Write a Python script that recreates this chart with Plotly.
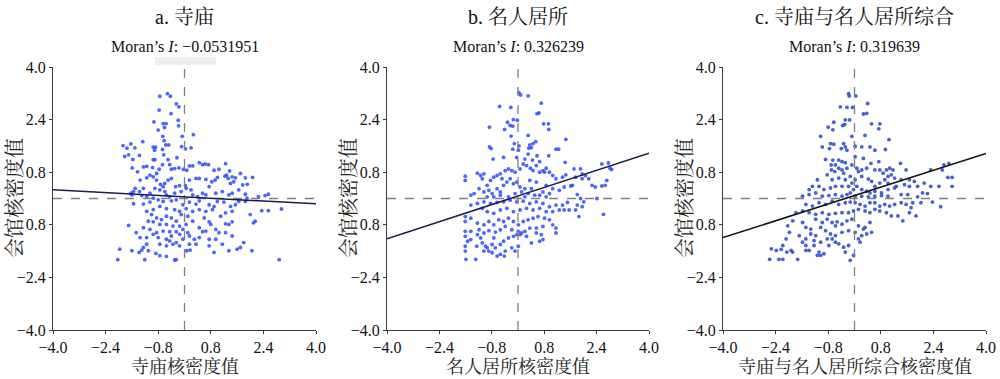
import plotly.graph_objects as go

# ---------------- data ----------------
panel_titles = ["a. 寺庙", "b. 名人居所", "c. 寺庙与名人居所综合"]
moran_values = ["−0.0531951", "0.326239", "0.319639"]
x_titles = ["寺庙核密度值", "名人居所核密度值", "寺庙与名人居所综合核密度值"]
y_title = "会馆核密度值"

tick_vals = [-4.0, -2.4, -0.8, 0.8, 2.4, 4.0]
x_tick_text = ["−4.0", "−2.4", "−0.8", "0.8", "2.4", "4.0"]
y_tick_text = ["−4.0", "−2.4", "0.8", "0.8", "2.4", "4.0"]

# regression lines: slope, intercept
fit_slopes = [-0.0532, 0.326, 0.320]
fit_intercepts = [0.05, 0.075, 0.09]

pts_a = [
    (-0.75, 3.11), (-0.52, 3.19), (-0.43, 3.11), (-0.25, 2.88), (-0.77, 2.69), (-0.41, 2.58), (-0.17, 2.79),
    (-0.19, 2.38), (-0.93, 2.33), (-0.65, 2.28), (-0.56, 2.28), (-0.61, 2.16), (-0.80, 2.08), (-0.18, 2.21),
    (-0.66, 1.89), (-0.62, 1.76), (-0.07, 1.89), (0.27, 1.94), (-1.27, 1.73), (-1.87, 1.61), (-1.75, 1.53),
    (-1.63, 1.66), (-1.51, 1.54), (-0.95, 1.56), (-0.88, 1.56), (-0.91, 1.47), (-0.57, 1.63), (-0.48, 1.63),
    (-0.67, 1.49), (-0.09, 1.58), (0.03, 1.51), (0.20, 1.54), (-1.82, 1.28), (-1.70, 1.33), (-1.57, 1.19),
    (-0.23, 1.24), (-0.95, 1.18), (-0.90, 1.18), (-0.63, 1.33), (-0.50, 1.18), (-1.37, 1.31),
    (-1.59, 0.93), (-1.43, 0.81), (-1.25, 0.96), (-1.15, 0.98), (-0.97, 0.94), (-0.85, 0.76), (-0.77, 0.89),
    (-0.67, 1.03), (-0.45, 1.03), (-0.40, 0.89), (-0.30, 0.91), (-0.17, 0.93), (-0.03, 0.89), (0.07, 0.86),
    (0.15, 0.99), (0.25, 0.99), (0.45, 1.09), (0.55, 1.03), (0.63, 1.05), (0.73, 1.03), (0.90, 0.86),
    (1.05, 0.89), (1.25, 1.06), (1.37, 0.84), (1.28, 0.71), (1.23, 0.68), (1.33, 0.61), (1.45, 0.66),
    (1.55, 0.63), (1.50, 0.51), (1.40, 0.46), (1.70, 0.76), (1.85, 0.63), (2.07, 0.64), (1.91, 0.43),
    (1.77, 0.41), (1.00, 0.64), (0.93, 0.56), (0.83, 0.51), (0.75, 0.36), (0.65, 0.58), (0.45, 0.61),
    (0.35, 0.61), (0.15, 0.56), (0.03, 0.39), (-0.15, 0.39), (-0.27, 0.36), (-0.40, 0.61), (-0.50, 0.56),
    (-0.60, 0.46), (-0.73, 0.43), (-0.85, 0.56), (-0.95, 0.66), (-1.05, 0.71), (-1.15, 0.63), (-1.35, 0.56),
    (-1.50, 0.31), (-1.55, 0.21), (-1.37, 0.21), (-1.25, 0.31), (-1.05, 0.16), (-0.90, 0.31), (-0.75, 0.26),
    (-0.65, 0.36), (-0.60, 0.21), (-0.55, 0.11), (-0.45, 0.06), (-0.30, 0.16), (-0.10, 0.21), (0.05, 0.31),
    (0.20, 0.26), (0.25, 0.11), (0.40, 0.06), (0.55, 0.16), (0.65, 0.11), (0.95, 0.16), (1.15, 0.21),
    (1.35, 0.11), (1.45, 0.16), (1.65, 0.26), (1.85, 0.13), (1.90, 0.01), (2.25, 0.06), (2.45, 0.09),
    (2.55, 0.13), (-1.60, 0.11), (-1.63, 0.16), (-1.30, 0.09), (-1.15, 0.06), (-0.95, 0.01),
    (-1.55, -0.16), (-1.25, -0.17), (-1.05, -0.11), (-0.80, -0.04), (-0.65, -0.09), (-0.40, -0.07),
    (-0.25, -0.04), (-0.05, -0.19), (0.15, -0.11), (0.35, -0.17), (0.45, -0.07), (0.75, -0.19), (0.90, -0.24),
    (1.00, -0.09), (1.20, -0.11), (1.40, -0.24), (1.55, -0.19), (1.65, -0.09), (1.85, -0.09), (2.35, -0.37),
    (2.55, -0.37), (2.95, -0.32), (2.00, -0.49), (2.15, -0.69), (2.10, -0.74), (1.45, -0.71), (1.35, -0.79),
    (1.25, -0.77), (0.85, -0.34), (0.65, -0.39), (0.45, -0.34), (0.25, -0.39), (0.05, -0.31), (-0.15, -0.39),
    (-0.30, -0.34), (-0.55, -0.31), (-0.75, -0.24), (-0.95, -0.34), (-1.15, -0.39), (-1.00, -0.49),
    (-0.85, -0.59), (-0.70, -0.64), (-0.55, -0.54), (-0.40, -0.59), (-0.25, -0.69), (-0.10, -0.49),
    (0.10, -0.54), (0.25, -0.69), (0.05, -0.79), (-0.15, -0.84), (-0.35, -0.84), (-0.55, -0.79),
    (-0.75, -0.79), (-0.95, -0.71), (-1.10, -0.69), (-1.25, -0.89), (-1.05, -0.94), (-0.85, -1.04),
    (-0.65, -0.99), (-0.45, -1.01), (-0.25, -1.01), (-0.05, -0.94), (0.10, -1.04), (-0.15, -1.09),
    (-0.40, -1.14), (-0.55, -1.24), (-0.45, -1.29), (-0.25, -1.34), (-0.05, -1.24), (0.15, -1.14),
    (0.65, -0.99), (0.80, -0.79), (0.95, -0.94), (1.05, -1.04), (1.25, -1.04), (0.95, -1.24), (0.75, -1.24),
    (0.45, -1.19), (0.30, -1.24), (0.15, -1.39), (-0.15, -1.44), (-0.35, -1.39), (-0.55, -1.44),
    (-0.75, -1.39), (-0.80, -1.19), (-0.95, -1.09), (-1.15, -1.19), (-1.35, -1.19), (-1.47, -1.04),
    (-1.70, -0.82), (-1.25, -1.49), (-1.15, -1.39), (-1.10, -1.59), (-1.30, -1.57), (-1.38, -1.64),
    (-1.60, -1.59), (-1.97, -1.54), (-2.03, -1.86), (-1.21, -1.86), (-0.87, -1.67), (-0.75, -1.74),
    (-0.55, -1.76), (-0.30, -1.87), (-0.25, -1.86), (0.07, -1.59), (0.17, -1.57), (0.35, -1.39),
    (0.75, -1.44), (0.90, -1.64), (1.15, -1.39), (1.35, -1.59), (1.45, -1.14), (1.60, -1.54), (1.70, -1.49),
    (1.80, -1.34), (2.05, -1.59), (2.88, -1.86), (0.55, -1.01), (0.45, -0.89), (0.60, -0.59), (0.75, -0.71),
    (1.10, -0.54), (1.25, -0.44), (1.45, -0.39),
]

pts_b = [
    (0.03, 3.22), (0.08, 3.15), (0.31, 3.12), (-0.56, 2.80), (-0.22, 2.77), (0.71, 2.90), (0.64, 2.60),
    (0.58, 2.58), (-0.14, 2.40), (-0.02, 2.38), (-0.32, 2.32), (-0.24, 2.22), (-0.16, 2.20), (-0.41, 2.10),
    (-0.87, 2.17), (0.78, 2.27), (0.93, 2.27), (0.94, 2.10), (0.31, 1.92), (-0.21, 1.90), (1.46, 1.80),
    (0.54, 1.73), (0.46, 1.67), (0.36, 1.63), (0.41, 1.55), (0.33, 1.53), (-0.11, 1.67), (0.03, 1.60),
    (0.01, 1.47), (-0.16, 1.50), (-0.87, 1.57), (-0.82, 1.52), (1.16, 1.50), (1.24, 1.50), (0.94, 1.30),
    (-0.76, 1.20), (-0.44, 1.25), (-0.04, 1.25), (0.21, 1.20), (0.31, 1.35), (0.44, 1.17), (0.58, 1.30),
    (0.66, 1.12), (0.86, 0.92), (0.81, 0.80), (1.44, 1.10), (1.71, 0.90), (1.91, 0.90), (2.56, 1.05),
    (2.76, 1.08), (2.81, 0.92), (2.86, 0.88),
    (-1.61, 0.68), (-1.61, 0.55), (-1.24, 0.77), (-1.14, 0.70), (-1.04, 0.75), (-1.09, 0.60), (-0.94, 0.40),
    (-0.84, 0.55), (-0.74, 0.65), (-0.64, 0.70), (-0.54, 0.75), (-0.49, 0.60), (-0.39, 0.85), (-0.29, 0.90),
    (-0.19, 0.85), (-0.09, 0.80), (0.06, 0.90), (0.16, 1.05), (0.26, 1.00), (0.38, 0.92), (0.46, 0.85),
    (0.56, 1.00), (0.66, 0.80), (0.76, 0.85), (0.96, 0.80), (1.06, 0.70), (1.16, 0.60), (1.36, 0.65),
    (1.46, 0.72), (1.61, 0.38), (1.66, 0.40), (1.76, 0.65), (1.96, 0.75), (2.16, 0.60), (2.26, 0.40),
    (2.36, 0.35), (2.56, 0.38), (2.66, 0.40), (2.71, 0.55), (2.06, 0.70), (1.96, 0.60), (-1.19, 0.30),
    (-1.04, 0.20), (-0.89, 0.25), (-0.79, 0.15), (-0.64, 0.30), (-0.54, 0.20), (-0.44, 0.40), (-0.34, 0.50),
    (-0.24, 0.60), (-0.14, 0.45), (-0.04, 0.50), (0.06, 0.35), (0.11, 0.20), (0.21, 0.30), (0.31, 0.15),
    (0.41, 0.30), (0.51, 0.10), (0.66, 0.10), (0.76, 0.20), (0.86, 0.05), (0.96, 0.15), (1.06, 0.30),
    (1.26, 0.25), (1.41, 0.35), (0.86, 0.40), (0.56, 0.50), (0.36, 0.55), (-1.34, 0.15), (-1.44, 0.10),
    (-0.94, 0.05), (-0.74, 0.05), (-0.54, 0.10), (-0.29, 0.05), (-0.09, 0.15), (0.21, 0.05),
    (1.81, 0.12), (1.91, 0.00), (2.01, -0.10), (1.81, -0.20), (1.96, -0.25), (1.51, -0.12), (1.36, -0.20),
    (1.16, -0.20), (0.96, -0.25), (0.76, -0.15), (0.56, -0.10), (0.36, -0.15), (0.16, -0.08), (-0.04, -0.10),
    (-0.24, -0.05), (-0.44, -0.10), (-0.64, -0.12), (-0.84, -0.15), (-1.04, -0.10), (-1.24, -0.15),
    (-1.44, -0.20), (-1.09, -0.30), (-0.94, -0.40), (-0.74, -0.45), (-0.54, -0.35), (-0.34, -0.30),
    (-0.14, -0.40), (0.06, -0.35), (0.26, -0.30), (0.46, -0.35), (0.66, -0.30), (0.86, -0.40), (1.06, -0.40),
    (1.26, -0.35), (1.41, -0.35), (1.56, -0.35), (1.76, -0.35), (1.86, -0.55), (2.61, -0.48), (2.41, 0.00),
    (-1.61, -0.55), (-1.61, -0.70), (-1.44, -0.60), (-1.24, -0.75), (-1.04, -0.80), (-1.19, -0.95),
    (-0.89, -0.70), (-0.74, -0.80), (-0.59, -0.65), (-0.44, -0.70), (-0.29, -0.60), (-0.14, -0.70),
    (0.01, -0.80), (0.16, -0.70), (0.31, -0.65), (0.46, -0.60), (0.61, -0.55), (0.81, -0.60), (0.96, -0.65),
    (1.06, -0.80), (1.16, -0.90), (1.16, -1.05), (0.76, -0.85), (0.56, -0.90), (0.36, -0.90), (0.21, -1.00),
    (0.01, -1.00), (-0.19, -0.95), (-0.39, -0.85), (-0.54, -0.95), (-0.69, -1.02), (-0.89, -0.98),
    (-1.04, -1.05), (-1.24, -1.10), (-1.44, -1.00), (-1.61, -1.00), (-1.61, -1.15), (-1.54, -1.30),
    (-1.61, -1.45), (-1.61, -1.60), (-1.59, -1.85), (-1.29, -1.85), (-1.26, -1.45), (-1.09, -1.35),
    (-0.99, -1.45), (-0.89, -1.60), (-0.79, -1.65), (-0.69, -1.50), (-0.54, -1.40), (-0.44, -1.30),
    (-0.29, -1.20), (-0.14, -1.15), (-0.04, -1.10), (0.11, -1.05), (0.26, -1.15), (0.56, -1.05),
    (0.66, -1.30), (0.76, -1.25), (0.41, -1.35), (0.01, -1.45), (-0.19, -1.50), (-0.39, -1.60),
    (-0.54, -1.70), (-0.79, -1.40), (-0.74, -1.20), (-1.14, -1.20), (-1.44, -1.25), (-1.04, -1.60),
    (-0.94, -1.50), (-0.64, -1.75), (-0.42, -1.75), (0.71, -1.10), (-0.09, -1.60), (0.06, -1.10),
]

pts_c = [
    (-0.18, 3.19), (-0.16, 3.12), (0.04, 3.12), (0.40, 2.89), (-0.43, 2.79), (-0.23, 2.77), (-0.06, 2.77),
    (0.37, 2.59), (0.27, 2.57), (-0.28, 2.39), (-0.15, 2.39), (-0.80, 2.17), (-0.63, 2.32), (-0.36, 2.22),
    (-0.30, 2.25), (-0.66, 2.09), (0.52, 2.27), (0.77, 2.27), (0.74, 2.12), (-1.03, 1.89), (-0.08, 1.89),
    (0.32, 1.92), (1.05, 1.79), (-0.73, 1.67), (-0.63, 1.65), (-0.33, 1.67), (-0.28, 1.57), (-0.40, 1.52),
    (-0.23, 1.47), (-0.98, 1.57), (-0.76, 1.52), (0.47, 1.57), (0.62, 1.47), (0.94, 1.49), (0.02, 1.59),
    (0.22, 1.57), (0.02, 1.27), (0.27, 1.22), (-0.88, 1.19), (-0.66, 1.17), (-0.48, 1.17), (-0.38, 1.12),
    (-0.28, 1.09), (-0.58, 1.02), (-0.71, 1.02), (-0.70, 0.87), (-0.60, 0.82), (-0.48, 0.92), (-0.38, 0.87),
    (-0.33, 0.77), (-0.23, 0.92), (-0.08, 1.02), (0.07, 0.92), (0.12, 0.82), (0.22, 0.87), (0.37, 0.92),
    (0.50, 1.07), (0.74, 1.12), (0.62, 0.87), (0.77, 0.87), (0.87, 0.77), (0.97, 0.87), (1.07, 0.92),
    (1.17, 0.87), (1.12, 0.72), (1.02, 0.67), (1.22, 0.62), (1.40, 1.07), (1.57, 0.87), (1.42, 0.57),
    (1.67, 0.57), (1.82, 0.52), (1.92, 0.37), (2.12, 0.47), (2.32, 0.87), (2.67, 0.87), (2.87, 1.07),
    (2.72, 1.02), (2.84, 0.64), (2.97, 0.64), (2.97, 0.37), (2.57, 0.37), (2.32, 0.37), (-0.83, 0.72),
    (-0.68, 0.57), (-0.48, 0.62), (-0.28, 0.57), (-0.13, 0.67), (-0.08, 0.47), (0.02, 0.57), (0.22, 0.67),
    (0.42, 0.59), (0.52, 0.52), (0.62, 0.37), (0.77, 0.47), (0.92, 0.57), (1.02, 0.47), (1.27, 0.37),
    (1.52, 0.42), (1.67, 0.37), (-1.13, 0.57), (-1.28, 0.37), (-1.38, 0.27), (-1.08, 0.37), (-0.93, 0.27),
    (-0.73, 0.32), (-0.58, 0.37), (-0.38, 0.37), (-0.18, 0.37), (-0.03, 0.27), (0.07, 0.37), (0.22, 0.27),
    (0.37, 0.22), (0.47, 0.17), (0.62, 0.22), (0.82, 0.17), (1.02, 0.27), (1.22, 0.32), (1.42, 0.12),
    (1.62, 0.12), (1.92, 0.05), (2.07, 0.17), (2.22, 0.15), (-1.58, 0.07), (-1.38, 0.12), (-1.18, 0.17),
    (-0.98, 0.07), (-0.78, 0.09), (-0.58, 0.12), (-0.38, 0.07), (-0.23, 0.12), (-0.13, 0.17), (0.02, 0.07),
    (0.22, 0.07), (0.42, 0.05), (0.62, 0.07), (0.82, 0.09), (1.02, 0.07),
    (-1.48, -0.18), (-1.28, -0.23), (-1.08, -0.13), (-0.88, -0.18), (-0.68, -0.08), (-0.48, -0.18),
    (-0.28, -0.13), (-0.13, -0.11), (0.02, -0.13), (0.17, -0.18), (0.32, -0.23), (0.47, -0.13), (0.62, -0.13),
    (0.77, -0.23), (0.92, -0.18), (1.07, -0.23), (1.22, -0.18), (1.42, -0.13), (1.57, -0.18), (1.77, -0.13),
    (2.02, -0.13), (2.37, -0.11), (2.62, -0.25), (-1.78, -0.43), (-1.58, -0.38), (-1.38, -0.43),
    (-1.18, -0.48), (-0.98, -0.43), (-0.78, -0.48), (-0.58, -0.45), (-0.38, -0.43), (-0.18, -0.43),
    (-0.03, -0.38), (0.12, -0.33), (0.32, -0.38), (0.47, -0.43), (0.62, -0.33), (0.77, -0.38), (0.97, -0.43),
    (1.12, -0.53), (1.32, -0.53), (1.47, -0.68), (1.67, -0.43), (1.87, -0.53), (1.72, -0.28), (-2.03, -0.83),
    (-1.88, -0.68), (-1.58, -0.73), (-1.48, -0.88), (-1.33, -0.93), (-1.18, -0.63), (-0.98, -0.73),
    (-0.83, -0.63), (-0.68, -0.73), (-0.53, -0.71), (-0.38, -0.78), (-0.23, -0.68), (-0.08, -0.63),
    (0.12, -0.83), (0.32, -0.88), (0.47, -0.73), (0.52, -1.03), (0.37, -1.08), (0.12, -1.23), (0.02, -1.03),
    (-0.18, -0.98), (-0.38, -1.03), (-0.58, -1.13), (-0.73, -1.08), (-0.88, -0.98), (-1.03, -0.88),
    (-1.18, -1.13), (-1.33, -1.08), (-1.48, -1.23), (-1.58, -1.33), (-1.68, -1.13), (-1.98, -1.03),
    (-2.08, -1.23), (-2.18, -1.43), (-1.48, -1.43), (-1.38, -1.58), (-1.23, -1.43), (-1.08, -1.63),
    (-0.93, -1.68), (-0.78, -1.43), (-0.58, -1.33), (-0.48, -1.38), (-0.33, -1.48), (-0.28, -1.63),
    (-0.18, -1.43), (-0.13, -1.88), (-0.03, -1.73), (0.17, -1.33), (0.22, -1.13), (-1.93, -1.58),
    (-1.88, -1.63), (-2.53, -1.53), (-2.38, -1.58), (-2.23, -1.55), (-2.06, -1.63), (-1.48, -1.58),
    (-1.13, -1.73), (-1.03, -1.73), (-2.58, -1.85), (-2.30, -1.85), (-2.18, -1.85), (-1.73, -1.85),
    (-0.58, -0.83), (-0.68, -1.23), (-0.83, -1.23), (-1.03, -1.33), (-1.23, -1.28), (0.27, -0.93),
]

point_sets = [pts_a, pts_b, pts_c]
point_colors = ["rgba(45,75,255,0.85)", "rgba(45,75,255,0.85)", "rgba(40,70,200,0.85)"]
line_colors = ["#1c1c50", "#1c1c50", "#111111"]

# ---------------- layout geometry ----------------
W, H = 1000, 379
x_domains = [(53 / W, 316 / W), (387 / W, 649 / W), (723 / W, 986 / W)]
y_domain = ((H - 330) / H, (H - 67) / H)
centers = [(a + b) / 2 for a, b in x_domains]

FONT = "Liberation Serif, Times New Roman, Noto Serif CJK SC, Noto Sans CJK SC, serif"
AXIS_COLOR = "#3a3a3a"

fig = go.Figure()

for i in range(3):
    xa = "x" if i == 0 else f"x{i + 1}"
    ya = "y" if i == 0 else f"y{i + 1}"
    pts = point_sets[i]
    fig.add_trace(go.Scatter(
        x=[p[0] for p in pts], y=[p[1] for p in pts], mode="markers",
        marker=dict(size=3.8, color=point_colors[i], line=dict(width=0)),
        xaxis=xa, yaxis=ya, showlegend=False, hoverinfo="skip"))
    # dashed cross at 0
    fig.add_trace(go.Scatter(x=[0, 0], y=[-4, 4], mode="lines",
                             line=dict(color="#808080", width=1.3, dash="dash"),
                             xaxis=xa, yaxis=ya, showlegend=False, hoverinfo="skip"))
    fig.add_trace(go.Scatter(x=[-4, 4], y=[0, 0], mode="lines",
                             line=dict(color="#808080", width=1.3, dash="dash"),
                             xaxis=xa, yaxis=ya, showlegend=False, hoverinfo="skip"))
    # regression line
    xs = [-4.0, 4.0]
    fig.add_trace(go.Scatter(x=xs, y=[fit_intercepts[i] + fit_slopes[i] * v for v in xs], mode="lines",
                             line=dict(color=line_colors[i], width=1.5),
                             xaxis=xa, yaxis=ya, showlegend=False, hoverinfo="skip"))

    axis_common = dict(range=[-4, 4], showgrid=False, zeroline=False, showline=True, automargin=False,
                       linecolor=AXIS_COLOR, linewidth=1.2, ticks="outside", ticklen=3,
                       tickcolor=AXIS_COLOR, tickvals=tick_vals,
                       tickfont=dict(family=FONT, size=16, color="#111"))
    fig.update_layout(**{
        ("xaxis" if i == 0 else f"xaxis{i + 1}"): dict(axis_common, domain=list(x_domains[i]),
                                                       ticktext=x_tick_text, anchor=ya),
        ("yaxis" if i == 0 else f"yaxis{i + 1}"): dict(axis_common, domain=list(y_domain),
                                                       ticktext=y_tick_text, anchor=xa),
    })

    ann = dict(xref="paper", yref="paper", showarrow=False, xanchor="center", yanchor="middle")
    # panel title
    fig.add_annotation(text=panel_titles[i], x=centers[i], y=(H - 17) / H,
                       font=dict(family=FONT, size=20, color="#111"), **ann)
    fig.add_annotation(text=f"Moran’s <i>I</i>: {moran_values[i]}", x=centers[i], y=(H - 47) / H,
                       font=dict(family=FONT, size=16, color="#111"), **ann)
    # axis titles
    fig.add_annotation(text=x_titles[i], x=centers[i], y=(H - 367) / H,
                       font=dict(family=FONT, size=18, color="#222"), **ann)
    y_title_x = [15, 349, 685][i]
    fig.add_annotation(text=y_title, x=y_title_x / W, y=(H - 198) / H, textangle=-90,
                       font=dict(family=FONT, size=20, color="#222"), **ann)

# faint grey bar under the first Moran's I label
fig.add_shape(type="rect", xref="paper", yref="paper", x0=155 / W, x1=216 / W,
              y0=(H - 65) / H, y1=(H - 57) / H, fillcolor="#efefef", line=dict(width=0), layer="below")

fig.update_layout(width=W, height=H, margin=dict(l=0, r=0, t=0, b=0, autoexpand=False),
                  paper_bgcolor="white", plot_bgcolor="white")

fig.write_html("out.html", config={"displayModeBar": False},
               post_script="document.body.style.margin='0';document.body.style.padding='0';")
